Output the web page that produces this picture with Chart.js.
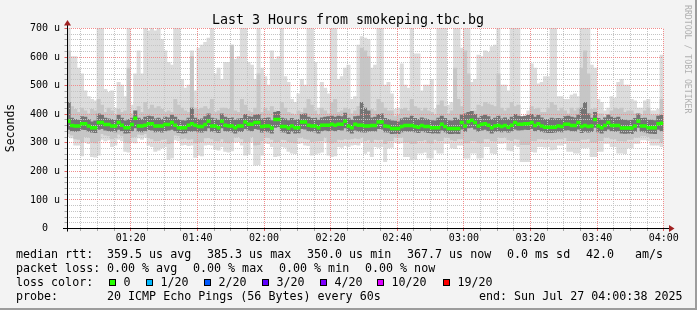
<!DOCTYPE html>
<html><head><meta charset="utf-8">
<script src="https://cdn.jsdelivr.net/npm/chart.js@4.4.1/dist/chart.umd.min.js"></script>
<style>html,body{margin:0;padding:0;background:#f3f3f3;overflow:hidden}canvas{display:block}</style>
</head><body>
<canvas id="c" width="697" height="310"></canvas>
<script>
const chartTitle = 'Last 3 Hours from smokeping.tbc.bg';
const yAxisTitle = 'Seconds';
const watermark = 'RRDTOOL / TOBI OETIKER';
const startMinute = 61; // 01:01, one column per minute
const xTickMinutes = [80, 100, 120, 140, 160, 180, 200, 220, 240];
const xTickLabels = ['01:20', '01:40', '02:00', '02:20', '02:40', '03:00', '03:20', '03:40', '04:00'];
const yTickValues = [0, 100, 200, 300, 400, 500, 600, 700];
const yTickLabels = ['  0  ', '100 u', '200 u', '300 u', '400 u', '500 u', '600 u', '700 u'];

// median RTT (us)
const med = [374,359,357,357,365,365,357,351,351,369,369,362,362,357,357,369,360,351,351,362,
384,357,357,360,365,365,357,357,357,362,362,369,360,351,351,351,360,365,360,355,355,362,374,357,357,
351,374,360,357,357,351,357,357,371,363,363,369,369,355,357,357,350,380,380,355,355,350,357,351,351,
371,371,360,357,357,351,360,360,360,363,360,363,363,374,357,351,363,360,360,357,
357,359,359,371,371,357,355,348,348,348,355,359,359,359,355,353,359,355,355,351,351,351,363,355,348,
348,348,348,369,357,372,377,369,357,363,365,360,351,357,359,355,359,353,360,369,
363,363,365,365,369,359,365,357,353,353,353,353,357,355,363,363,359,359,369,355,359,355,357,380,357,
351,359,369,359,359,359,350,350,350,350,357,374,357,357,351,351,351,365,367];
// outer smoke (slowest / fastest ping)
const hi1 = [700,600,600,560,540,480,460,450,445,700,700,485,475,480,420,510,500,460,700,430,
540,620,540,700,690,700,690,700,660,620,580,570,700,700,520,490,500,620,480,630,640,650,665,700,540,
560,520,580,580,640,590,600,700,700,580,570,520,700,560,530,500,620,590,600,700,530,510,450,440,470,
520,500,700,700,580,420,510,490,470,700,700,520,530,560,570,450,460,640,670,665,
660,560,570,700,700,500,510,470,415,420,575,500,490,700,610,610,480,500,500,520,415,700,700,700,430,
440,700,700,630,700,700,510,520,605,600,620,615,635,640,700,500,500,480,700,700,
700,390,390,410,575,560,505,510,530,530,700,700,460,460,450,450,465,470,460,700,700,700,570,560,450,
440,410,420,460,455,510,520,500,500,450,445,420,420,445,450,410,410,415,605];
const lo1 = [320,315,290,290,252,300,295,250,248,255,310,305,308,285,290,310,305,268,265,300,
298,315,310,318,290,285,268,272,280,285,240,245,308,305,290,292,288,290,247,255,252,290,292,290,275,
272,285,268,265,270,300,302,290,255,258,300,220,222,255,298,295,285,250,252,285,282,268,262,260,295,
298,290,288,255,258,262,265,300,255,250,252,285,282,288,285,290,292,290,300,261,
268,250,285,282,285,232,280,282,300,296,298,250,250,238,240,262,262,265,245,244,273,262,262,296,296,
280,278,290,290,244,244,262,262,244,245,285,285,262,260,296,296,298,272,270,290,
285,232,232,232,267,265,285,285,283,285,273,275,290,290,295,268,268,262,262,280,280,282,250,250,268,
268,296,296,285,285,262,262,260,280,280,296,296,308,308,306,290,290,290,285];
// middle smoke
const hi2 = [620,425,415,405,420,410,400,415,410,450,430,405,420,410,395,415,405,410,560,400,
410,425,405,440,415,430,420,425,415,405,410,405,450,430,420,410,405,600,420,415,420,425,415,450,405,
410,420,420,415,640,410,405,450,430,410,405,420,540,405,420,410,425,410,405,440,420,405,400,395,410,
405,420,450,430,410,395,420,410,400,440,450,405,410,420,415,400,410,425,630,620,
600,415,410,450,440,420,410,410,390,395,415,420,410,450,425,420,410,420,410,405,395,430,445,425,400,
410,560,450,425,620,540,405,410,430,425,440,435,430,425,540,420,410,420,440,425,
430,380,385,395,425,415,420,405,405,420,440,430,410,420,410,400,420,410,420,560,620,540,415,420,400,
400,390,395,410,420,415,420,405,410,410,400,395,395,410,420,395,395,395,450];
const lo2 = [330,325,312,310,300,320,318,300,298,305,330,325,322,312,315,328,322,300,298,318,
320,328,326,330,315,312,305,306,310,312,295,298,325,322,312,314,310,312,298,300,302,315,316,312,305,
304,312,300,298,302,318,320,312,300,302,320,290,292,305,318,316,310,300,302,310,308,302,300,298,315,
318,312,310,302,304,305,306,318,300,298,300,310,308,312,310,312,314,312,318,305,
308,300,310,308,310,295,305,306,318,316,318,300,300,295,296,306,305,308,298,297,310,305,306,318,316,
308,306,312,312,298,298,306,305,298,298,312,312,305,304,318,316,318,308,306,312,
310,292,292,292,306,305,312,312,310,312,308,310,312,312,316,306,306,305,305,310,310,312,300,300,306,
306,318,318,312,312,305,305,304,310,310,318,318,322,322,320,312,312,312,300];
// inner (dark) smoke
const hi3 = [440,385,380,378,390,388,380,372,375,400,395,385,382,380,378,395,385,375,380,385,
410,385,380,388,392,390,382,385,380,388,386,395,388,380,376,375,385,420,385,380,382,390,400,385,382,
378,400,388,384,386,378,382,384,398,390,388,395,398,382,384,386,376,405,408,385,382,376,384,378,380,
398,400,388,384,385,378,386,388,390,392,388,392,390,402,385,378,390,392,440,420,
410,386,388,398,400,384,380,375,374,372,382,386,385,392,384,380,386,382,380,376,375,385,392,384,376,
375,385,380,396,400,405,408,398,385,392,395,390,380,385,392,382,386,380,388,398,
392,390,392,394,398,388,394,386,380,380,385,382,384,382,390,392,388,386,396,420,440,400,385,405,384,
378,386,396,388,385,388,380,378,376,378,384,400,384,385,378,378,376,392,394];
const lo3 = [345,340,338,340,345,344,338,335,334,345,348,342,340,338,336,345,340,332,333,340,
350,338,336,340,344,342,336,338,335,340,342,345,340,334,332,333,340,338,340,336,335,340,350,338,336,
334,350,340,338,336,332,338,337,348,342,340,348,345,335,338,336,332,352,355,336,335,330,338,332,333,
348,346,340,338,336,332,340,342,340,342,340,344,342,350,338,332,342,338,336,335,
338,340,339,348,346,336,335,330,331,330,336,340,338,339,336,334,340,336,334,332,333,332,342,336,330,
330,331,330,346,338,350,352,346,338,342,345,340,332,338,340,336,340,335,340,346,
342,343,345,344,348,340,344,338,335,334,334,335,338,336,342,343,340,339,346,334,338,335,337,352,336,
332,340,346,340,338,340,332,331,332,330,338,352,338,336,332,331,330,345,340];

const legendLines = [
  [[16, 'median rtt:'], [107, '359.5 us avg'], [207, '385.3 us max'], [307, '350.0 us min'], [407, '367.7 us now'], [507, '0.0 ms sd'], [586, '42.0'], [635, 'am/s']],
  [[16, 'packet loss:'], [107, '0.00 % avg'], [193, '0.00 % max'], [279, '0.00 % min'], [365, '0.00 % now']],
  [[16, 'loss color:']],
  [[16, 'probe:'], [107, '20 ICMP Echo Pings (56 Bytes) every 60s'], [479, 'end: Sun Jul 27 04:00:38 2025']]
];
const lossLabels = ['0', '1/20', '2/20', '3/20', '4/20', '10/20', '19/20'];
const lossColors = ['#26ff00', '#00b8ff', '#0059ff', '#5e00ff', '#7e00ff', '#dd00ff', '#ff0000'];
const lossBoxX = [109, 146, 204, 262, 320, 377, 443];

const colLight = '#dcdcdc', colMid = '#c6c6c6', colDark = '#747474', colMedian = '#26ff00';

function band(lo, hi) {
  return hi.map((v, i) => ({ x: startMinute + i + 0.5, y: [lo[i], v] }));
}
const medBand = med.map((v, i) => ({ x: startMinute + i + 0.5, y: [v - 5, v + 5] }));

const FONT = "'DejaVu Sans Mono', monospace";

const rrdPlugin = {
  id: 'rrd',
  beforeDraw(chart) {
    const ctx = chart.ctx, a = chart.chartArea;
    ctx.save();
    ctx.fillStyle = '#f3f3f3';
    ctx.fillRect(0, 0, 697, 310);
    ctx.fillStyle = '#9c9c9c';
    ctx.fillRect(695, 0, 2, 310);
    ctx.fillRect(0, 308, 697, 2);
    ctx.fillStyle = '#ffffff';
    ctx.fillRect(a.left, a.top, a.right - a.left, a.bottom - a.top);
    ctx.restore();
  },
  beforeDatasetDraw(chart, args) {
    if (chart.data.datasets[args.index].label !== 'median') return;
    const ctx = chart.ctx, a = chart.chartArea;
    const xs = chart.scales.x, ys = chart.scales.y;
    ctx.save();
    ctx.lineWidth = 1;
    ctx.setLineDash([1, 1]);
    ctx.strokeStyle = '#c4c4c4';
    for (let m = 65; m <= 240; m += 5) {
      if (m % 20 === 0) continue;
      const px = Math.round(xs.getPixelForValue(m)) + 0.5;
      ctx.beginPath(); ctx.moveTo(px, a.bottom); ctx.lineTo(px, a.top); ctx.stroke();
    }
    for (let v = 20; v < 700; v += 20) {
      if (v % 100 === 0) continue;
      const py = Math.round(ys.getPixelForValue(v)) + 0.5;
      ctx.beginPath(); ctx.moveTo(a.left, py); ctx.lineTo(a.right, py); ctx.stroke();
    }
    ctx.strokeStyle = '#f08c8c';
    xTickMinutes.forEach(m => {
      const px = Math.round(xs.getPixelForValue(m)) + 0.5;
      ctx.beginPath(); ctx.moveTo(px, a.bottom); ctx.lineTo(px, a.top); ctx.stroke();
    });
    yTickValues.forEach(v => {
      if (v === 0) return;
      const py = Math.round(ys.getPixelForValue(v)) + 0.5;
      ctx.beginPath(); ctx.moveTo(a.left, py); ctx.lineTo(a.right, py); ctx.stroke();
    });
    ctx.restore();
  },
  afterDraw(chart) {
    const ctx = chart.ctx, a = chart.chartArea;
    const xs = chart.scales.x, ys = chart.scales.y;
    ctx.save();
    const y0 = Math.round(ys.getPixelForValue(0)) + 0.5;
    const x0 = Math.round(a.left) + 0.5;
    ctx.lineWidth = 1;
    for (let m = 65; m <= 240; m += 5) {
      const px = Math.round(xs.getPixelForValue(m)) + 0.5;
      ctx.strokeStyle = (m % 20 === 0) ? '#e06060' : '#a8a8a8';
      ctx.beginPath(); ctx.moveTo(px, y0); ctx.lineTo(px, y0 + 2.5); ctx.stroke();
    }
    for (let v = 20; v <= 700; v += 20) {
      const py = Math.round(ys.getPixelForValue(v)) + 0.5;
      ctx.strokeStyle = (v % 100 === 0) ? '#e06060' : '#a8a8a8';
      ctx.beginPath(); ctx.moveTo(x0 - 3, py); ctx.lineTo(x0, py); ctx.stroke();
    }
    ctx.strokeStyle = '#000000';
    ctx.beginPath(); ctx.moveTo(63, y0); ctx.lineTo(670, y0); ctx.stroke();
    ctx.beginPath(); ctx.moveTo(x0, y0 + 3); ctx.lineTo(x0, 24); ctx.stroke();
    ctx.fillStyle = '#a02020';
    ctx.beginPath(); ctx.moveTo(674.5, y0); ctx.lineTo(669, y0 - 3.5); ctx.lineTo(669, y0 + 3.5); ctx.closePath(); ctx.fill();
    ctx.beginPath(); ctx.moveTo(x0, 20); ctx.lineTo(x0 - 3.5, 25.5); ctx.lineTo(x0 + 3.5, 25.5); ctx.closePath(); ctx.fill();
    ctx.fillStyle = '#000000';
    ctx.font = '10px ' + FONT;
    ctx.textAlign = 'center'; ctx.textBaseline = 'alphabetic';
    xTickMinutes.forEach((m, i) => ctx.fillText(xTickLabels[i], xs.getPixelForValue(m) + 0.5, 241));
    ctx.textAlign = 'right'; ctx.textBaseline = 'middle';
    yTickValues.forEach((v, i) => ctx.fillText(yTickLabels[i], 60, ys.getPixelForValue(v) + 0.5));
    ctx.font = '13.3px ' + FONT;
    ctx.textAlign = 'center'; ctx.textBaseline = 'alphabetic';
    ctx.fillText(chartTitle, 348, 24);
    ctx.save();
    ctx.font = '11.5px ' + FONT;
    ctx.translate(14, 128);
    ctx.rotate(-Math.PI / 2);
    ctx.textAlign = 'center';
    ctx.fillText(yAxisTitle, 0, 0);
    ctx.restore();
    ctx.save();
    ctx.font = '8.2px ' + FONT;
    ctx.fillStyle = '#b0b0b0';
    ctx.translate(685, 5);
    ctx.rotate(Math.PI / 2);
    ctx.textAlign = 'left';
    ctx.fillText(watermark, 0, 0);
    ctx.restore();
    ctx.font = '11.66px ' + FONT;
    ctx.textAlign = 'left'; ctx.textBaseline = 'alphabetic';
    ctx.fillStyle = '#000000';
    const baselines = [258, 272, 286, 300];
    legendLines.forEach((line, li) => line.forEach(([x, t]) => ctx.fillText(t, x, baselines[li])));
    lossLabels.forEach((t, i) => {
      const bx = lossBoxX[i];
      ctx.fillStyle = lossColors[i];
      ctx.fillRect(bx, 279, 7, 7);
      ctx.strokeStyle = '#000000';
      ctx.strokeRect(bx + 0.5, 279.5, 6, 6);
      ctx.fillStyle = '#000000';
      ctx.fillText(t, bx + 14.5, 286);
    });
    ctx.restore();
  }
};

new Chart(document.getElementById('c'), {
  type: 'bar',
  data: {
    datasets: [
      { label: 'median', data: medBand, backgroundColor: colMedian, order: 0 },
      { label: 'inner', data: band(lo3, hi3), backgroundColor: colDark, order: 1 },
      { label: 'middle', data: band(lo2, hi2), backgroundColor: colMid, order: 2 },
      { label: 'outer', data: band(lo1, hi1), backgroundColor: colLight, order: 3 }
    ].map(d => Object.assign(d, { grouped: false, barPercentage: 1, categoryPercentage: 1, borderWidth: 0 }))
  },
  options: {
    responsive: false,
    animation: false,
    events: [],
    devicePixelRatio: 1,
    layout: { padding: { left: 0, right: 33.7, top: 28, bottom: 0 } },
    plugins: { legend: { display: false }, tooltip: { enabled: false }, title: { display: false } },
    scales: {
      x: {
        type: 'linear', min: 61, max: 240, offset: false,
        grid: { display: false }, border: { display: false }, ticks: { display: false },
        afterFit(s) { s.height = 82; }
      },
      y: {
        type: 'linear', min: 0, max: 700,
        grid: { display: false }, border: { display: false }, ticks: { display: false },
        afterFit(s) { s.width = 67; }
      }
    }
  },
  plugins: [rrdPlugin]
});
</script>
</body></html>
